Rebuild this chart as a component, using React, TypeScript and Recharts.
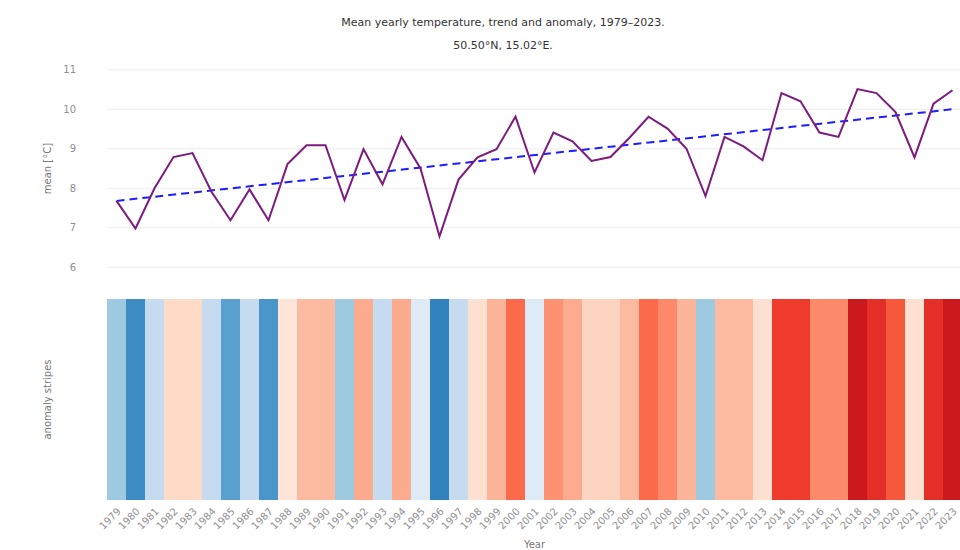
import { ComposedChart, BarChart, Bar, Cell, Line, XAxis, YAxis, CartesianGrid, Label } from "recharts";

const years = [
  "1979", "1980", "1981", "1982", "1983", "1984", "1985", "1986", "1987", "1988",
  "1989", "1990", "1991", "1992", "1993", "1994", "1995", "1996", "1997", "1998",
  "1999", "2000", "2001", "2002", "2003", "2004", "2005", "2006", "2007", "2008",
  "2009", "2010", "2011", "2012", "2013", "2014", "2015", "2016", "2017", "2018",
  "2019", "2020", "2021", "2022", "2023",
];

const meanTemp = [
  7.68, 6.98, 8.0, 8.79, 8.89, 7.91, 7.19, 7.97, 7.19, 8.61,
  9.09, 9.09, 7.7, 8.99, 8.1, 9.3, 8.5, 6.78, 8.22, 8.78,
  8.99, 9.81, 8.4, 9.41, 9.19, 8.69, 8.79, 9.28, 9.81, 9.51,
  9.0, 7.8, 9.3, 9.06, 8.71, 10.41, 10.2, 9.41, 9.3, 10.51,
  10.41, 9.93, 8.78, 10.14, 10.48,
];

// linear trend, first and last year only
const trendEnds = [7.68, 10.0];

const stripeColors = [
  "#9ecae1", "#3d8dc4", "#c6dbef", "#fddbc7", "#fddbc7", "#c6dbef", "#5aa0cf", "#c6dbef", "#4a96c9", "#fee5d9",
  "#fcbba1", "#fcbba1", "#9ecae1", "#fcab8f", "#c6dbef", "#fcab8f", "#deebf7", "#3182bd", "#c6dbef", "#fee0d2",
  "#fcb499", "#fb6a4a", "#deebf7", "#fc9272", "#fcab8f", "#fdd4c0", "#fdd4c0", "#fcbba1", "#fb6a4a", "#fc8a6a",
  "#fcb499", "#9ecae1", "#fcbba1", "#fcbba1", "#fee0d2", "#ef3b2c", "#ef3b2c", "#fc8a6a", "#fc8a6a", "#cb181d",
  "#e32f27", "#f5583a", "#fee0d2", "#e32f27", "#cb181d",
];

const yTicks = [6, 7, 8, 9, 10, 11];

const lineData = years.map((year, i) => ({
  year,
  mean: meanTemp[i],
  trend: i === 0 ? trendEnds[0] : i === years.length - 1 ? trendEnds[1] : null,
}));

const stripeData = years.map((year) => ({ year, stripe: 1 }));

const axisText = { fill: "#8f8f8f", fontSize: 10 };

export default function App() {
  return (
    <div
      style={{
        position: "absolute",
        left: 0,
        top: 0,
        width: 960,
        height: 550,
        overflow: "hidden",
        background: "#fff",
        fontFamily: "'DejaVu Sans', sans-serif",
      }}
    >
      <div style={{ position: "absolute", left: 253, top: 16, width: 500, textAlign: "center", fontSize: 11, color: "#333" }}>
        Mean yearly temperature, trend and anomaly, 1979–2023.
      </div>
      <div style={{ position: "absolute", left: 253, top: 39, width: 500, textAlign: "center", fontSize: 11, color: "#333" }}>
        50.50°N, 15.02°E.
      </div>

      <div style={{ position: "absolute", left: 0, top: 40 }}>
        <ComposedChart width={964} height={255} data={lineData} margin={{ top: 10, right: 2, bottom: 8, left: 47 }}>
          <CartesianGrid stroke="#ececec" vertical={false} horizontalValues={yTicks} />
          <XAxis dataKey="year" scale="band" hide />
          <YAxis
            domain={[5.5, 11.5]}
            ticks={yTicks}
            width={60}
            axisLine={false}
            tickLine={false}
            tickSize={0}
            tickMargin={31}
            tick={axisText}
          >
            <Label value="mean [°C]" angle={-90} position="insideLeft" offset={0} style={{ fill: "#777", fontSize: 10, textAnchor: "middle" }} />
          </YAxis>
          <Line dataKey="trend" stroke="#1d1dff" strokeWidth={2} strokeDasharray="8 5" dot={false} connectNulls isAnimationActive={false} />
          <Line dataKey="mean" stroke="#7d1a80" strokeWidth={2} dot={false} isAnimationActive={false} />
        </ComposedChart>
      </div>

      <div style={{ position: "absolute", left: 0, top: 299 }}>
        <BarChart width={964} height={251} data={stripeData} barCategoryGap={0} barGap={0} margin={{ top: 0, right: 2, bottom: 0, left: 47 }}>
          <XAxis
            dataKey="year"
            interval={0}
            angle={-45}
            textAnchor="end"
            axisLine={false}
            tickLine={false}
            tickSize={0}
            tickMargin={7}
            height={50}
            tick={axisText}
          >
            <Label value="Year" position="insideBottom" offset={2} style={{ fill: "#777", fontSize: 10 }} />
          </XAxis>
          <YAxis domain={[0, 1]} width={60} tick={false} axisLine={false} tickLine={false}>
            <Label value="anomaly stripes" angle={-90} position="insideLeft" offset={0} style={{ fill: "#777", fontSize: 10, textAnchor: "middle" }} />
          </YAxis>
          <Bar dataKey="stripe" isAnimationActive={false}>
            {stripeData.map((d, i) => (
              <Cell key={d.year} fill={stripeColors[i]} />
            ))}
          </Bar>
        </BarChart>
      </div>
    </div>
  );
}
